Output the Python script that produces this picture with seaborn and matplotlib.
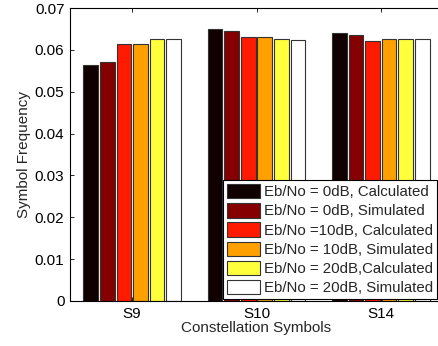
import pandas as pd
import matplotlib
matplotlib.use("Agg")
import matplotlib.pyplot as plt
import seaborn as sns
from matplotlib.ticker import FuncFormatter

# Data
symbols = ['S9', 'S10', 'S14']
series = ['Eb/No = 0dB, Calculated', 'Eb/No = 0dB, Simulated',
          'Eb/No =10dB, Calculated', 'Eb/No = 10dB, Simulated',
          'Eb/No = 20dB,Calculated', 'Eb/No = 20dB, Simulated']
values_s9 = [0.0564, 0.0570, 0.0614, 0.0614, 0.0625, 0.0625]
values_s10 = [0.0649, 0.0645, 0.0630, 0.0631, 0.0625, 0.0624]
values_s14 = [0.0640, 0.0636, 0.0620, 0.0626, 0.0625, 0.0625]
colors = ['#100000', '#850000', '#ff1a00', '#ff9f00', '#ffff3c', '#ffffff']

rows = []
for sym, vals in zip(symbols, [values_s9, values_s10, values_s14]):
    for s, v in zip(series, vals):
        rows.append({'Symbol': sym, 'Series': s, 'Frequency': v})
df = pd.DataFrame(rows)

sns.set_style('white')
plt.rcParams['font.family'] = ['Liberation Sans', 'DejaVu Sans']

fig = plt.figure(figsize=(4.39, 3.46), dpi=100)
ax = fig.add_axes([70 / 439, 45 / 346, 373 / 439, 293 / 346])

sns.barplot(data=df, x='Symbol', y='Frequency', hue='Series', order=symbols,
            hue_order=series, palette=colors, width=0.8, gap=0.12,
            edgecolor='#333333', linewidth=0.8, saturation=1, ax=ax)

ax.set_ylim(0, 0.07)
ax.set_xlim(-0.5, 2.5)
ax.set_yticks([0, 0.01, 0.02, 0.03, 0.04, 0.05, 0.06, 0.07])
ax.yaxis.set_major_formatter(FuncFormatter(lambda v, p: f'{v:g}'))
ax.tick_params(direction='in', length=3, width=0.6, labelsize=11, pad=4,
               top=True, right=True, bottom=True, left=True, colors='black')
ax.set_xlabel('Constellation Symbols', fontsize=11, labelpad=0)
ax.set_ylabel('Symbol Frequency', fontsize=11, labelpad=3)
for sp in ax.spines.values():
    sp.set_color('black')
    sp.set_linewidth(0.8)

handles, labels = ax.get_legend_handles_labels()
ax.legend(handles, labels, loc='lower right',
          bbox_to_anchor=(437 / 439, 47 / 346), bbox_transform=fig.transFigure,
          borderaxespad=0, fontsize=10.8, handlelength=2.2, handleheight=1.1,
          handletextpad=0.3, labelspacing=0.26, borderpad=0.25,
          frameon=True, fancybox=False, edgecolor='black', framealpha=1)
ax.get_legend().get_frame().set_linewidth(0.8)

fig.savefig('out.png', dpi=100)
